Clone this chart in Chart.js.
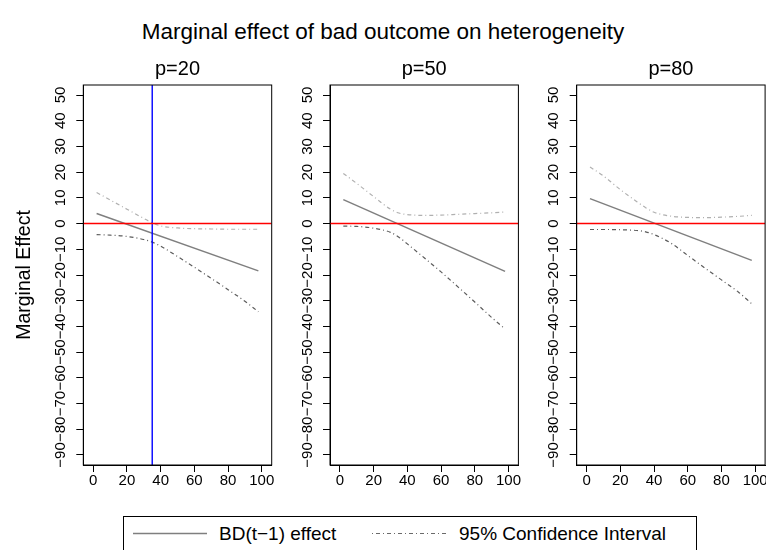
<!DOCTYPE html>
<html>
<head>
<meta charset="utf-8">
<script src="https://cdn.jsdelivr.net/npm/chart.js@4.4.1/dist/chart.umd.min.js"></script>
<style>
  html, body { margin: 0; padding: 0; background: #fff; overflow: hidden; }
  body { width: 766px; height: 550px; position: relative; font-family: 'Liberation Sans', Arial, sans-serif; color: #000; }
  canvas { position: absolute; top: 50px; }
  #title { position: absolute; left: 0; top: 20.5px; width: 766px; text-align: center; font-size: 22.5px; line-height: 22.5px; }
  #legend { position: absolute; left: 123px; top: 516px; width: 574px; height: 40px; border: 1px solid #000; box-sizing: border-box; }
  #legend svg { position: absolute; left: 0; top: 0; }
  .lg { position: absolute; top: 7.3px; font-size: 19px; line-height: 19px; white-space: nowrap; }
</style>
</head>
<body>
<div id="title">Marginal effect of bad outcome on heterogeneity</div>

<canvas id="p1" width="280" height="450" style="left:0px"></canvas>
<canvas id="p2" width="240" height="450" style="left:287px"></canvas>
<canvas id="p3" width="240" height="450" style="left:533px"></canvas>

<div id="legend">
  <svg width="572" height="38">
    <line x1="9" y1="16.5" x2="83" y2="16.5" stroke="#7f7f7f" stroke-width="1.5"/>
    <line x1="248" y1="16.5" x2="323" y2="16.5" stroke="#6a6a6a" stroke-width="1" stroke-dasharray="1 3 4 3"/>
  </svg>
  <span class="lg" style="left:95px">BD(t−1) effect</span>
  <span class="lg" style="left:335px">95% Confidence Interval</span>
</div>

<script>
// x positions of the plotted curves
const ciX = [2, 10, 20, 30, 35, 40, 50, 60, 70, 80, 90, 98];
const effectX = [2, 98];

const panelTitles = ['p=20', 'p=50', 'p=80'];

// p=20
const effect20 = [3.9, -18.4];
const upper20 = [12.1, 9.2, 5.6, 2.0, 0.3, -0.9, -1.7, -2.0, -2.1, -2.2, -2.2, -2.2];
const lower20 = [-4.3, -4.5, -5.0, -6.2, -7.2, -8.8, -12.8, -17.0, -21.3, -25.7, -30.2, -34.3];

// p=50
const effect50 = [9.3, -18.6];
const upper50 = [19.5, 15.6, 10.5, 5.6, 4.1, 3.5, 3.2, 3.3, 3.6, 3.9, 4.2, 4.5];
const lower50 = [-1.0, -1.1, -1.8, -3.4, -5.3, -7.9, -13.3, -18.8, -24.6, -30.5, -36.5, -41.0];

// p=80
const effect80 = [9.7, -14.3];
const upper80 = [22.0, 18.5, 13.2, 8.4, 6.2, 4.4, 2.9, 2.4, 2.3, 2.5, 2.8, 3.2];
const lower80 = [-2.3, -2.3, -2.4, -2.7, -3.2, -4.3, -7.6, -12.4, -17.2, -21.9, -26.6, -31.2];

// reference lines
const refY = 0;
const refX = 35;

// axis limits
const xMin = -5.9, xMax = 105.9;
const yMin = -93.9, yMax = 53.9;

const FONT = "'Liberation Sans', Arial, sans-serif";
Chart.defaults.font.family = FONT;
Chart.defaults.color = '#000';

function pts(xs, ys) {
  return xs.map((x, i) => ({ x: x, y: ys[i] }));
}

function fmt(v) {
  return String(v).replace('-', '\u2212');
}

// frame round the plot region
const boxPlugin = {
  id: 'box',
  afterDraw(chart) {
    const a = chart.chartArea;
    const ctx = chart.ctx;
    ctx.save();
    ctx.strokeStyle = '#000';
    ctx.lineWidth = 1;
    ctx.strokeRect(a.left, a.top, a.right - a.left, a.bottom - a.top);
    ctx.restore();
  }
};

// y tick labels parallel to the axis
const yLabelPlugin = {
  id: 'yLabels',
  afterDraw(chart) {
    const s = chart.scales.y;
    const ctx = chart.ctx;
    ctx.save();
    ctx.font = '15px ' + FONT;
    ctx.fillStyle = '#000';
    ctx.textAlign = 'center';
    ctx.textBaseline = 'middle';
    s.ticks.forEach(t => {
      ctx.save();
      ctx.translate(chart.chartArea.left - 22.6, s.getPixelForValue(t.value));
      ctx.rotate(-Math.PI / 2);
      ctx.fillText(fmt(t.value), 0, 0);
      ctx.restore();
    });
    ctx.restore();
  }
};

function makePanel(id, title, effect, upper, lower, vline, axisW, padRight, yTitle) {
  const datasets = [
    { data: [{ x: xMin, y: refY }, { x: xMax, y: refY }], borderColor: '#ff0000', borderWidth: 1.5 }
  ];
  if (vline) {
    datasets.push({ data: [{ x: refX, y: yMin }, { x: refX, y: yMax }], borderColor: '#0000ff', borderWidth: 1.4 });
  }
  datasets.push(
    { data: pts(effectX, effect), borderColor: '#7f7f7f', borderWidth: 1.5 },
    { data: pts(ciX, upper), borderColor: '#b0b0b0', borderWidth: 1.2, borderDash: [4, 3, 1, 3], cubicInterpolationMode: 'monotone' },
    { data: pts(ciX, lower), borderColor: '#5c5c5c', borderWidth: 1.2, borderDash: [4, 3, 1, 3], cubicInterpolationMode: 'monotone' }
  );

  new Chart(document.getElementById(id), {
    type: 'line',
    data: { datasets: datasets },
    options: {
      responsive: false,
      animation: false,
      events: [],
      elements: { point: { radius: 0 } },
      layout: { padding: { right: padRight } },
      plugins: {
        legend: { display: false },
        tooltip: { enabled: false }
      },
      scales: {
        x: {
          type: 'linear',
          min: xMin,
          max: xMax,
          ticks: { stepSize: 20, includeBounds: false, font: { size: 15 }, padding: 0, maxRotation: 0, color: '#000' },
          grid: { drawOnChartArea: false, tickLength: 7, color: '#000' },
          border: { color: '#000' },
          afterFit: s => { s.height = 35; }
        },
        xTop: {
          type: 'linear',
          axis: 'x',
          position: 'top',
          min: xMin,
          max: xMax,
          ticks: { display: false },
          grid: { display: false },
          border: { display: false },
          title: {
            display: true,
            text: title,
            font: { size: 20 },
            padding: { top: 7.5, bottom: 0 },
            color: '#000'
          },
          afterFit: s => { s.height = 35; }
        },
        y: {
          type: 'linear',
          min: yMin,
          max: yMax,
          ticks: { stepSize: 10, includeBounds: false, autoSkip: false, display: false },
          grid: { drawOnChartArea: false, tickLength: 7, color: '#000' },
          border: { color: '#000' },
          title: {
            display: yTitle,
            text: 'Marginal Effect',
            font: { size: 19.5 },
            padding: { top: 13.3, bottom: 0 },
            color: '#000'
          },
          afterFit: s => { s.width = axisW; }
        }
      }
    },
    plugins: [boxPlugin, yLabelPlugin]
  });
}

makePanel('p1', panelTitles[0], effect20, upper20, lower20, true, 83.3, 8.3, true);
makePanel('p2', panelTitles[1], effect50, upper50, lower50, false, 43, 8.6, false);
makePanel('p3', panelTitles[2], effect80, upper80, lower80, false, 43.7, 7.9, false);
</script>
</body>
</html>
